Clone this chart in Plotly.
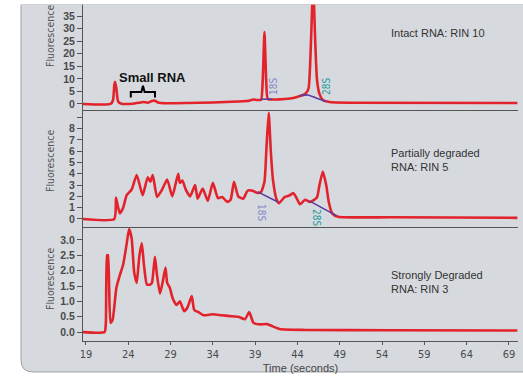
import plotly.graph_objects as go
from plotly.subplots import make_subplots

# ---------------- data ----------------
intact_t = [18.65, 21.9, 22.2, 22.35, 22.45, 22.6, 22.8, 23.2, 24.5, 25.3, 25.8, 26.3, 26.8, 27.1, 27.5,
            28.5, 31, 34, 37, 38.3, 38.8, 39.2, 39.7, 39.9, 40.1, 40.3, 40.5, 41.5, 42.5, 43.5, 44.3,
            44.9, 45.3, 45.6, 45.85, 46.1, 46.3, 46.6, 47.0, 47.8, 50, 70]
intact_v = [0.0, 0.0, 1.5, 7.5, 8.8, 6.0, 1.0, 0.1, 0.1, 0.5, 0.8, 0.5, 1.2, 1.4, 0.6,
            0.3, 0.4, 0.6, 1.0, 1.3, 1.8, 1.6, 1.7, 10, 28.6, 10, 2.0, 1.8, 2.0, 2.4, 3.2,
            4.0, 6.0, 25, 48, 25, 10, 4.0, 1.6, 0.8, 0.5, 0.4]

partial_t = [18.65, 22.35, 22.55, 22.75, 23.0, 23.4, 23.8, 24.4, 25.0, 25.7, 26.3, 26.6, 26.9, 27.4,
             28.0, 28.6, 29.2, 29.9, 30.1, 30.4, 30.8, 31.3, 31.9, 32.2, 32.8, 33.4, 34.0, 34.6,
             35.1, 35.7, 36.1, 36.5, 37.0, 37.6, 38.1, 38.7, 39.3, 39.7, 40.1, 40.35, 40.6, 40.85,
             41.1, 41.5, 41.8, 42.5, 43.1, 43.5, 43.9, 44.3, 44.9, 45.5, 46.3, 46.6, 47.0, 47.4,
             47.7, 48.1, 48.8, 55, 70]
partial_v = [0.0, 0.0, 1.9, 1.2, 0.5, 1.0, 2.1, 2.6, 3.9, 2.1, 3.7, 3.3, 3.9, 1.95,
             2.6, 3.5, 2.0, 4.0, 3.2, 3.4, 2.6, 2.0, 3.0, 1.8, 2.7, 1.6, 3.2, 1.85,
             1.95, 1.5, 1.7, 3.3, 2.0, 1.8, 2.5, 2.5, 2.3, 2.4, 3.3, 6.5, 9.4, 6.0,
             3.5, 1.8, 1.4, 1.95, 2.1, 2.3, 1.85, 1.3, 1.7, 1.5, 1.9, 3.0, 4.2, 3.0,
             1.5, 0.5, 0.2, 0.15, 0.1]

strong_t = [18.65, 21.2, 21.35, 21.5, 21.6, 21.9, 22.15, 22.6, 23.0, 23.4, 23.8, 24.1, 24.4, 24.7,
            25.0, 25.3, 25.6, 25.85, 26.2, 26.6, 26.8, 27.15, 27.4, 27.75, 28.05, 28.4, 28.6, 28.9,
            29.25, 29.7, 30.1, 30.6, 31.0, 31.5, 31.8, 32.3, 32.9, 34.0, 35.0, 36.0, 37.0, 37.8,
            38.3, 38.8, 39.6, 40.4, 41.9, 45, 55, 70]
strong_v = [0.0, 0.0, 0.3, 2.5, 2.5, 0.3, 0.4, 1.45, 1.85, 2.2, 2.85, 3.35, 3.05, 1.95,
            1.6, 2.45, 2.9, 2.2, 1.55, 1.55, 1.6, 2.45, 1.85, 1.25, 1.6, 2.1, 1.6, 1.45,
            1.1, 0.88, 1.0, 0.68, 0.8, 1.17, 0.72, 0.65, 0.55, 0.58, 0.55, 0.52, 0.5, 0.42,
            0.65, 0.3, 0.25, 0.26, 0.1, 0.07, 0.06, 0.05]

# baselines under ribosomal peaks
base1_18s_t = [39.7, 41.0]
base1_18s_v = [1.9, 1.9]
base1_28s_t = [44.3, 45.2, 46.2, 47.4]
base1_28s_v = [3.2, 3.6, 2.4, 1.0]
base2_18s_t = [39.3, 41.7]
base2_18s_v = [2.4, 1.5]
base2_28s_t = [45.4, 48.6]
base2_28s_v = [1.6, 0.3]

x_ticks = [19, 24, 29, 34, 39, 44, 49, 54, 59, 64, 69]
y1_ticks = [0, 5, 10, 15, 20, 25, 30, 35, 40]
y2_ticks = [0, 1, 2, 3, 4, 5, 6, 7, 8, 9]
y2_text = ["0", "1", "2", "3", "4", "5", "6", "7", "8", ""]
y3_ticks = [0.0, 0.5, 1.0, 1.5, 2.0, 2.5, 3.0]

# ---------------- layout helpers ----------------
W, H = 523, 377
L, R, T, B = 83, 5, 0, 36
PW, PH = W - L - R, H - T - B


def pxx(x):
    return (x - L) / PW


def pxy(y):
    return (PH - y) / PH


RED = "#e3232c"
PURPLE = "#5b3c9e"
GRAY_BG = "#d6dadf"
AX = "#555555"
FONT = "Liberation Sans, Arial, sans-serif"
NARROW = "DejaVu Sans Condensed, Liberation Sans, sans-serif"

fig = make_subplots(rows=3, cols=1, shared_xaxes=True, vertical_spacing=0)

for row, (t, v) in enumerate([(intact_t, intact_v), (partial_t, partial_v), (strong_t, strong_v)], start=1):
    fig.add_trace(go.Scatter(x=t, y=v, mode="lines",
                             line=dict(color=RED, width=2.6, shape="spline", smoothing=0.5),
                             showlegend=False, hoverinfo="skip"), row=row, col=1)

for row, (t, v) in [(1, (base1_18s_t, base1_18s_v)), (1, (base1_28s_t, base1_28s_v)),
                    (2, (base2_18s_t, base2_18s_v)), (2, (base2_28s_t, base2_28s_v))]:
    fig.add_trace(go.Scatter(x=t, y=v, mode="lines",
                             line=dict(color=PURPLE, width=1.6, shape="spline", smoothing=0.6),
                             showlegend=False, hoverinfo="skip"), row=row, col=1)

axis_common = dict(showline=True, linecolor=AX, linewidth=1, showgrid=False, zeroline=False,
                   mirror=False)

for i in (1, 2, 3):
    key = "xaxis" if i == 1 else f"xaxis{i}"
    fig.layout[key].update(range=[18.65, 70.07], **axis_common)
    if i < 3:
        fig.layout[key].update(showticklabels=False, ticks="")
    else:
        fig.layout[key].update(tickvals=x_ticks, ticks="outside", ticklen=3, tickcolor=AX,
                               tickfont=dict(family=NARROW, size=11, color="#4a4a4a"),
                               title=dict(text="Time (seconds)", standoff=4,
                                          font=dict(family=FONT, size=11, color="#444444")))

fig.layout.yaxis.update(domain=[pxy(110), 1.0], range=[-2.4, 41.4], tickvals=y1_ticks,
                        **axis_common)
fig.layout.yaxis2.update(domain=[pxy(227), pxy(110)], range=[-0.71, 9.65], tickvals=y2_ticks,
                         ticktext=y2_text, **axis_common)
fig.layout.yaxis3.update(domain=[0, pxy(227)], range=[-0.29, 3.42], tickvals=y3_ticks,
                         tickformat=".1f", **axis_common)
for key in ("yaxis", "yaxis2", "yaxis3"):
    fig.layout[key].update(ticks="outside", ticklen=5, tickcolor=AX,
                           tickfont=dict(family=FONT, size=10.5, color="#4a4a4a", weight="bold"))

# background panel with rounded bottom-left corner
x0, x1 = pxx(21), pxx(530)
ytop, ybot = pxy(4.5), pxy(372)
rx, ry = 12 / PW, 12 / PH
fig.add_shape(type="path", xref="paper", yref="paper", layer="below",
              path=(f"M {x0},{ytop} L {x0},{ybot + ry} Q {x0},{ybot} {x0 + rx},{ybot} "
                    f"L {x1},{ybot} L {x1},{ytop} Z"),
              fillcolor=GRAY_BG, line=dict(color="#9ea2a7", width=1))
# white strip at the very top (crop edge)
fig.add_shape(type="rect", xref="paper", yref="paper", layer="above",
              x0=pxx(0), x1=pxx(W + 5), y0=pxy(4.5), y1=pxy(-5),
              fillcolor="white", line=dict(width=0))

# brace for small RNA
fig.add_shape(type="path", xref="x", yref="y",
              path="M 24.3,2.6 L 24.3,4.8 L 25.55,4.8 L 25.74,7.3 L 25.93,4.8 L 27.16,4.8 L 27.16,2.6",
              line=dict(color="black", width=2))

ann = []


def add_text(text, x, y, size, color, family=FONT, angle=0, xanchor="center", align="center"):
    ann.append(dict(text=text, x=pxx(x), y=pxy(y), xref="paper", yref="paper",
                    xanchor=xanchor, yanchor="middle", align=align, textangle=angle,
                    showarrow=False, font=dict(family=family, size=size, color=color)))


for yc in (36, 161, 279):
    add_text("Fluorescence", 50, yc, 10.5, "#555555", family=NARROW, angle=-90)
add_text("Intact RNA: RIN 10", 389, 33, 11, "#333333", xanchor="left", align="left")
add_text("Partially degraded<br>RNA: RIN 5", 389, 160, 11, "#333333", xanchor="left", align="left")
add_text("Strongly Degraded<br>RNA: RIN 3", 389, 282, 11, "#333333", xanchor="left", align="left")
add_text("<b>Small RNA</b>", 152, 77, 13, "#111111")
# peak labels
add_text("18S", 273, 87, 10, "#8a86c8", family=NARROW, angle=-90)
add_text("28S", 326, 87, 10, "#1f9c9c", family=NARROW, angle=-90)
add_text("18S", 262, 212, 10, "#8a86c8", family=NARROW, angle=90)
add_text("28S", 317, 217, 10, "#1f9c9c", family=NARROW, angle=90)

fig.update_layout(width=W, height=H, margin=dict(l=L, r=R, t=T, b=B),
                  paper_bgcolor="white", plot_bgcolor="rgba(0,0,0,0)",
                  annotations=ann, showlegend=False)

fig.write_html("out.html")
